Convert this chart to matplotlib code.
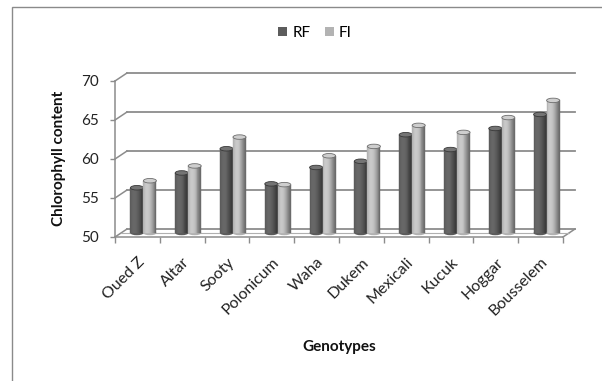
import numpy as np
import matplotlib
matplotlib.use("Agg")
import matplotlib.pyplot as plt
from matplotlib.patches import Ellipse, Patch, Rectangle

plt.rcParams['font.family'] = ['Lato', 'DejaVu Sans']

genotypes = ["Oued Z", "Altar", "Sooty", "Polonicum", "Waha", "Dukem",
             "Mexicali", "Kucuk", "Hoggar", "Bousselem"]
rf_values = [55.8, 57.7, 60.8, 56.3, 58.4, 59.2, 62.6, 60.7, 63.4, 65.2]
fi_values = [56.7, 58.6, 62.3, 56.2, 59.9, 61.1, 63.8, 62.9, 64.8, 67.0]
y_ticks = [50, 55, 60, 65, 70]
series_names = ["RF", "FI"]
series_colors = ["#5c5c5c", "#b3b3b3"]

W, H, DPI = 602, 381, 100
fig = plt.figure(figsize=(W / DPI, H / DPI), dpi=DPI)
fig.patch.set_facecolor("white")

# chart frame
fig.add_artist(Rectangle((12 / W, -0.05), 1.2, 1 - 7 / H + 0.05,
                         transform=fig.transFigure, fill=False,
                         edgecolor="#8a8a8a", linewidth=1.0))

ax_l, ax_r, ax_b, ax_t = 115, 563, 237, 81
ax = fig.add_axes([ax_l / W, 1 - ax_b / H, (ax_r - ax_l) / W, (ax_b - ax_t) / H])
ax.set_xlim(-0.5, len(genotypes) - 0.5)
ax.set_ylim(y_ticks[0], y_ticks[-1])
ax.patch.set_alpha(0)

# depth of the 3-D box in data units
px_x = (ax_r - ax_l) / len(genotypes)
px_y = (ax_b - ax_t) / (y_ticks[-1] - y_ticks[0])
dx = 12 / px_x
dy = 8 / px_y
grid_col = "#8c8c8c"

# back wall gridlines and the diagonals joining them to the front axis
x0, x1 = -0.5, len(genotypes) - 0.5
for yv in y_ticks:
    ax.plot([x0 + dx, x1 + dx], [yv + dy, yv + dy], color=grid_col, lw=1.3,
            clip_on=False, zorder=1)
    ax.plot([x0, x0 + dx], [yv, yv + dy], color=grid_col, lw=1.1,
            clip_on=False, zorder=1)
# floor right edge
ax.plot([x1, x1 + dx], [y_ticks[0], y_ticks[0] + dy], color=grid_col, lw=1.1,
        clip_on=False, zorder=1)
ax.plot([x0 + dx * 0.5, x1 + dx * 0.5], [y_ticks[0] + dy * 0.5] * 2,
        color="#b0b0b0", lw=0.8, clip_on=False, zorder=1)

# cylinders
bar_w = 13 / px_x
ell_h = 4.5 / px_y
n_strips = 14


def shade(color, t):
    c = np.array(matplotlib.colors.to_rgb(color))
    f = 0.78 + 0.35 * np.cos((t - 0.32) * np.pi * 1.05)
    return np.clip(c * f, 0, 1)


base = y_ticks[0] + dy * 0.5
for s, (vals, col) in enumerate(zip([rf_values, fi_values], series_colors)):
    for i, v in enumerate(vals):
        xc = i + dx * 0.5 + (s - 0.5) * bar_w
        top = v + dy * 0.5
        z = 3 + s * 0.1
        ax.add_patch(Ellipse((xc, base), bar_w, ell_h,
                             facecolor=shade(col, 0.6), edgecolor="none",
                             clip_on=False, zorder=z))
        edges = np.linspace(xc - bar_w / 2, xc + bar_w / 2, n_strips + 1)
        for k in range(n_strips):
            t = (k + 0.5) / n_strips
            ax.bar(edges[k], top - base, width=edges[k + 1] - edges[k],
                   bottom=base, align="edge", color=shade(col, t),
                   edgecolor=shade(col, t), linewidth=0.3,
                   clip_on=False, zorder=z)
        ax.add_patch(Ellipse((xc, top), bar_w, ell_h,
                             facecolor=shade(col, 0.35) * 0.92 + 0.08,
                             edgecolor=shade(col, 0.95), linewidth=0.6,
                             clip_on=False, zorder=z + 0.05))

# axes styling
for side in ["top", "right"]:
    ax.spines[side].set_visible(False)
for side in ["left", "bottom"]:
    ax.spines[side].set_color(grid_col)
    ax.spines[side].set_linewidth(1.1)

ax.set_yticks(y_ticks)
ax.set_yticklabels([str(v) for v in y_ticks], fontsize=11, color="#222222")
ax.tick_params(axis="y", length=3.5, width=1, color=grid_col, pad=8)

ax.set_xticks(np.arange(-0.5, len(genotypes)))
ax.set_xticklabels([])
ax.tick_params(axis="x", which="major", length=4, width=1, color=grid_col)
ax.set_xticks(np.arange(len(genotypes)), minor=True)
ax.set_xticklabels(genotypes, minor=True, rotation=45, ha="right",
                   rotation_mode="anchor", fontsize=11.5, color="#222222")
ax.tick_params(axis="x", which="minor", length=0, pad=13)

fig.text(59 / W, 1 - 158 / H, "Chlorophyll content", rotation=90,
         ha="center", va="center", fontsize=11, fontweight="bold",
         color="#111111")
fig.text(339 / W, 1 - 347 / H, "Genotypes", ha="center", va="center",
         fontsize=11, fontweight="bold", color="#111111")

handles = [Patch(facecolor=c, edgecolor="none") for c in series_colors]
fig.legend(handles, series_names, loc="center", bbox_to_anchor=(315 / W, 1 - 33 / H),
           ncol=2, frameon=False, fontsize=11, handlelength=0.6, handleheight=0.6,
           handletextpad=0.35, columnspacing=0.9)

fig.savefig("out.png", dpi=DPI, facecolor="white")
